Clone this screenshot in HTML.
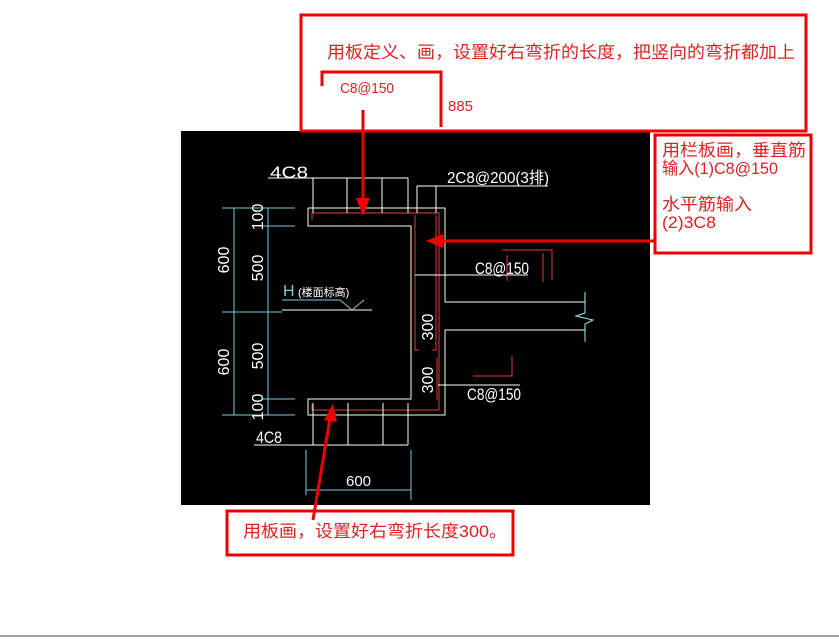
<!DOCTYPE html>
<html><head><meta charset="utf-8"><style>
html,body{margin:0;padding:0;background:#fff;width:839px;height:639px;overflow:hidden}
svg{display:block}
</style></head><body>
<svg width="839" height="639" viewBox="0 0 839 639" xmlns="http://www.w3.org/2000/svg">
<rect x="0" y="0" width="839" height="639" fill="#fff"/>
<rect x="181" y="131" width="469" height="374" fill="#000"/>
<g stroke="#ffffe0" stroke-width="1" fill="none">
<polyline points="308,208 445,208 445,302 585,302"/>
<polyline points="308,208 308,226 411,226 411,399 308,399 308,415 445,415 445,330 585,330"/>
</g>
<polyline points="585,292 585,313 576,316 593,320 585,324 585,342" stroke="#9ee" fill="none"/>
<g stroke="#c03030" stroke-width="1.2" fill="none">
<polyline points="312,220 312,213 439,213 439,410 312,410 312,404"/>
<polyline points="415,215 415,350 419,350"/>
<polyline points="436,215 436,350 432,350"/>
<polyline points="437,358 437,400"/>
<polyline points="502,250 552,250 552,280"/>
<polyline points="543,253 543,282"/>
<polyline points="507,255 507,281"/>
<polyline points="473,376 512,376 512,356"/>
</g>
<g stroke="#fff" stroke-width="1" fill="none">
<line x1="268" y1="178" x2="408" y2="178"/>
<line x1="313" y1="178" x2="313" y2="213"/><line x1="347" y1="178" x2="347" y2="213"/>
<line x1="382" y1="178" x2="382" y2="213"/><line x1="408" y1="178" x2="408" y2="213"/>
<line x1="417" y1="186" x2="548" y2="186"/>
<line x1="417" y1="186" x2="417" y2="213"/><line x1="436" y1="186" x2="436" y2="213"/>
<line x1="415" y1="275" x2="528" y2="275"/>
<line x1="438" y1="385" x2="520" y2="385"/>
<line x1="254" y1="445" x2="408" y2="445"/>
<line x1="313" y1="403" x2="313" y2="445"/><line x1="348" y1="403" x2="348" y2="445"/>
<line x1="383" y1="403" x2="383" y2="445"/><line x1="408" y1="403" x2="408" y2="445"/>
<line x1="282" y1="310" x2="372" y2="310"/>
</g>
<g stroke="#7cd" stroke-width="1" fill="none">
<line x1="234" y1="208" x2="234" y2="415"/>
<line x1="268" y1="208" x2="268" y2="415"/>
<line x1="222" y1="208" x2="295" y2="208"/>
<line x1="262" y1="226" x2="295" y2="226"/>
<line x1="222" y1="312" x2="282" y2="312"/>
<line x1="262" y1="399" x2="295" y2="399"/>
<line x1="222" y1="415" x2="295" y2="415"/>
<line x1="282" y1="300" x2="340" y2="300"/>
<polyline points="340,300 352,310 364,300"/>
<line x1="306" y1="450" x2="306" y2="495"/>
<line x1="411" y1="450" x2="411" y2="500"/>
<line x1="306" y1="490" x2="411" y2="490"/>
</g>
<g fill="#fff" font-family="Liberation Sans, Noto Sans CJK SC, sans-serif" font-size="17">
<text x="270" y="178" textLength="38" lengthAdjust="spacingAndGlyphs">4C8</text>
<text x="447" y="183" font-size="16" textLength="102" lengthAdjust="spacingAndGlyphs">2C8@200(3排)</text>
<text x="475" y="274" textLength="54" lengthAdjust="spacingAndGlyphs">C8@150</text>
<text x="467" y="400" textLength="54" lengthAdjust="spacingAndGlyphs">C8@150</text>
<text x="256" y="443" textLength="26" lengthAdjust="spacingAndGlyphs">4C8</text>
<text x="346" y="486" font-size="15">600</text>
<text x="298" y="296" font-size="11">(楼面标高)</text>
<g font-size="16">
<text transform="translate(229,260) rotate(-90)" text-anchor="middle">600</text>
<text transform="translate(229,362) rotate(-90)" text-anchor="middle">600</text>
<text transform="translate(263,217) rotate(-90)" text-anchor="middle">100</text>
<text transform="translate(263,268) rotate(-90)" text-anchor="middle">500</text>
<text transform="translate(263,356) rotate(-90)" text-anchor="middle">500</text>
<text transform="translate(263,407) rotate(-90)" text-anchor="middle">100</text>
<text transform="translate(433,327) rotate(-90)" text-anchor="middle">300</text>
<text transform="translate(433,380) rotate(-90)" text-anchor="middle">300</text>
</g>
</g>
<text x="283" y="296" fill="#7cd" font-family="Liberation Sans,sans-serif" font-size="16">H</text>
<g fill="none" stroke="#e00" stroke-width="3">
<rect x="301" y="15" width="505" height="116" fill="#fff"/>
<rect x="655" y="135" width="156" height="118" fill="#fff"/>
<rect x="227" y="511" width="286" height="44" fill="#fff"/>
<polyline points="322,86 322,72 441,72 441,127"/>
<line x1="363" y1="110" x2="363" y2="200"/>
<line x1="655" y1="241" x2="440" y2="241"/>
<line x1="313" y1="520" x2="330" y2="418"/>
</g>
<g fill="#e00">
<polygon points="356,198 370,198 363,216"/>
<polygon points="443,234 443,248 426,241"/>
<polygon points="324,420 337,422 333,404"/>
</g>
<g fill="#d22" font-family="Liberation Sans, Noto Sans CJK SC, sans-serif" font-size="17">
<text x="327" y="58" textLength="468" lengthAdjust="spacingAndGlyphs">用板定义、画，设置好右弯折的长度，把竖向的弯折都加上</text>
<text x="340" y="93" font-size="15" textLength="54" lengthAdjust="spacingAndGlyphs">C8@150</text>
<text x="448" y="111" font-size="15">885</text>
<text x="662" y="156" textLength="144" lengthAdjust="spacingAndGlyphs">用栏板画，垂直筋</text>
<text x="662" y="174" textLength="116" lengthAdjust="spacingAndGlyphs">输入(1)C8@150</text>
<text x="662" y="210" textLength="90" lengthAdjust="spacingAndGlyphs">水平筋输入</text>
<text x="662" y="228" textLength="54" lengthAdjust="spacingAndGlyphs">(2)3C8</text>
<text x="243" y="537" textLength="264" lengthAdjust="spacingAndGlyphs">用板画，设置好右弯折长度300。</text>
</g>
<line x1="0" y1="636" x2="839" y2="636" stroke="#9a9" stroke-width="2"/>
</svg>
</body></html>
